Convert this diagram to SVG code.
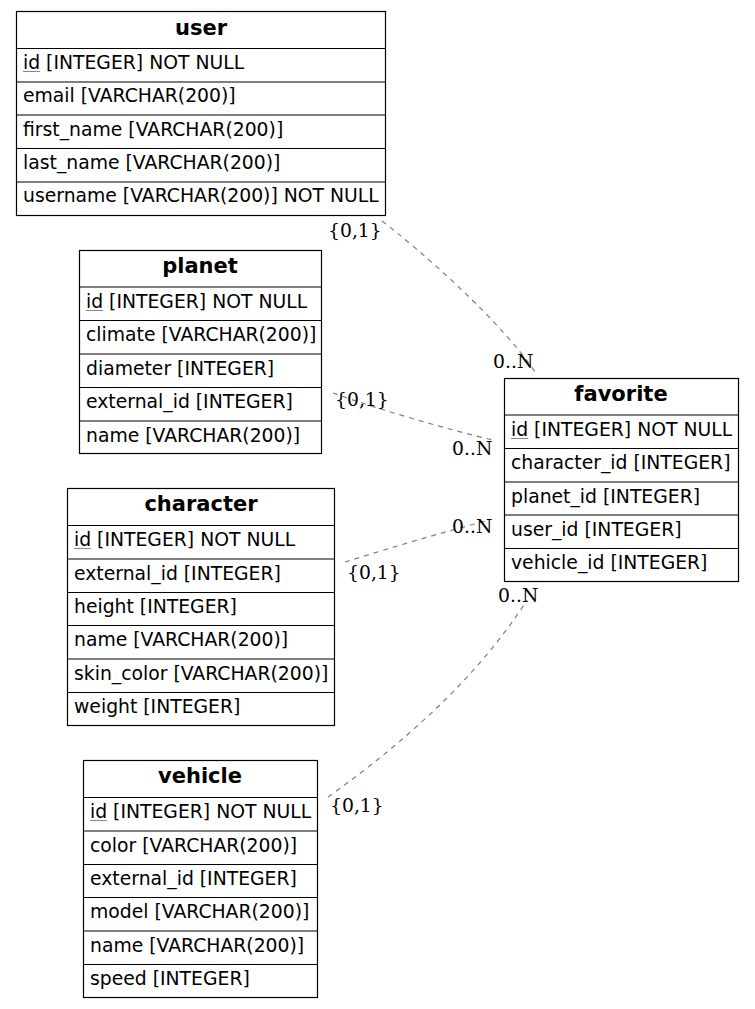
<svg xmlns="http://www.w3.org/2000/svg" width="755" height="1009" viewBox="0 0 755 1009">
<style>
.box{fill:#fff;stroke:#000;stroke-width:1.2}
.sep{stroke:#000;stroke-width:1.2}
.h{font-family:"DejaVu Sans",sans-serif;font-size:21px;font-weight:bold;text-anchor:middle;fill:#000}
.r{font-family:"DejaVu Sans",sans-serif;font-size:18.8px;fill:#000}
.u{stroke:#888;stroke-width:1}
.c{fill:none;stroke:#7f7f7f;stroke-width:1.2;stroke-dasharray:5,5}
.l{font-family:"DejaVu Serif",serif;font-size:18.8px;fill:#000}
</style>
<rect width="755" height="1009" fill="#fff"/>
<g id="connectors">
<path class="c" d="M382,221 C420,250 500,320 535,372"/>
<path class="c" d="M333,393 C380,410 450,430 493,440"/>
<path class="c" d="M345,562 C390,548 450,530 490,520"/>
<path class="c" d="M328,797 C380,760 470,690 527,600"/>
<text class="l" x="328" y="237">{0,1}</text>
<text class="l" x="493" y="368">0..N</text>
<text class="l" x="335" y="406">{0,1}</text>
<text class="l" x="452" y="455">0..N</text>
<text class="l" x="347" y="579">{0,1}</text>
<text class="l" x="452" y="533">0..N</text>
<text class="l" x="330" y="812">{0,1}</text>
<text class="l" x="498" y="602">0..N</text>
</g>
<g id="user">
<rect class="box" x="16.5" y="11.5" width="369" height="204"/>
<line class="sep" x1="16.5" y1="48.5" x2="385.5" y2="48.5"/>
<line class="sep" x1="16.5" y1="82" x2="385.5" y2="82"/>
<line class="sep" x1="16.5" y1="115" x2="385.5" y2="115"/>
<line class="sep" x1="16.5" y1="148.5" x2="385.5" y2="148.5"/>
<line class="sep" x1="16.5" y1="182" x2="385.5" y2="182"/>
<text class="h" x="201" y="35">user</text>
<text class="r" x="23" y="69">id [INTEGER] NOT NULL</text>
<line class="u" x1="23" y1="71.5" x2="40" y2="71.5"/>
<text class="r" x="23" y="102">email [VARCHAR(200)]</text>
<text class="r" x="23" y="136">first_name [VARCHAR(200)]</text>
<text class="r" x="23" y="169">last_name [VARCHAR(200)]</text>
<text class="r" x="23" y="202">username [VARCHAR(200)] NOT NULL</text>
</g>
<g id="planet">
<rect class="box" x="79.5" y="250.5" width="242" height="203"/>
<line class="sep" x1="79.5" y1="287" x2="321.5" y2="287"/>
<line class="sep" x1="79.5" y1="320.5" x2="321.5" y2="320.5"/>
<line class="sep" x1="79.5" y1="354" x2="321.5" y2="354"/>
<line class="sep" x1="79.5" y1="387.5" x2="321.5" y2="387.5"/>
<line class="sep" x1="79.5" y1="421" x2="321.5" y2="421"/>
<text class="h" x="200" y="273">planet</text>
<text class="r" x="86" y="308">id [INTEGER] NOT NULL</text>
<line class="u" x1="86" y1="310.5" x2="103" y2="310.5"/>
<text class="r" x="86" y="341">climate [VARCHAR(200)]</text>
<text class="r" x="86" y="375">diameter [INTEGER]</text>
<text class="r" x="86" y="408">external_id [INTEGER]</text>
<text class="r" x="86" y="442">name [VARCHAR(200)]</text>
</g>
<g id="character">
<rect class="box" x="67.5" y="488.5" width="267" height="237"/>
<line class="sep" x1="67.5" y1="525.5" x2="334.5" y2="525.5"/>
<line class="sep" x1="67.5" y1="559" x2="334.5" y2="559"/>
<line class="sep" x1="67.5" y1="592.5" x2="334.5" y2="592.5"/>
<line class="sep" x1="67.5" y1="625.5" x2="334.5" y2="625.5"/>
<line class="sep" x1="67.5" y1="659" x2="334.5" y2="659"/>
<line class="sep" x1="67.5" y1="692.5" x2="334.5" y2="692.5"/>
<text class="h" x="201" y="511">character</text>
<text class="r" x="74" y="546">id [INTEGER] NOT NULL</text>
<line class="u" x1="74" y1="548.5" x2="91" y2="548.5"/>
<text class="r" x="74" y="580">external_id [INTEGER]</text>
<text class="r" x="74" y="613">height [INTEGER]</text>
<text class="r" x="74" y="646">name [VARCHAR(200)]</text>
<text class="r" x="74" y="680">skin_color [VARCHAR(200)]</text>
<text class="r" x="74" y="713">weight [INTEGER]</text>
</g>
<g id="vehicle">
<rect class="box" x="83.5" y="760.5" width="234" height="237"/>
<line class="sep" x1="83.5" y1="797.5" x2="317.5" y2="797.5"/>
<line class="sep" x1="83.5" y1="831" x2="317.5" y2="831"/>
<line class="sep" x1="83.5" y1="864.5" x2="317.5" y2="864.5"/>
<line class="sep" x1="83.5" y1="897.5" x2="317.5" y2="897.5"/>
<line class="sep" x1="83.5" y1="931" x2="317.5" y2="931"/>
<line class="sep" x1="83.5" y1="964.5" x2="317.5" y2="964.5"/>
<text class="h" x="200" y="783">vehicle</text>
<text class="r" x="90" y="818">id [INTEGER] NOT NULL</text>
<line class="u" x1="90" y1="820.5" x2="107" y2="820.5"/>
<text class="r" x="90" y="852">color [VARCHAR(200)]</text>
<text class="r" x="90" y="885">external_id [INTEGER]</text>
<text class="r" x="90" y="918">model [VARCHAR(200)]</text>
<text class="r" x="90" y="952">name [VARCHAR(200)]</text>
<text class="r" x="90" y="985">speed [INTEGER]</text>
</g>
<g id="favorite">
<rect class="box" x="504.5" y="378.5" width="234" height="203"/>
<line class="sep" x1="504.5" y1="415" x2="738.5" y2="415"/>
<line class="sep" x1="504.5" y1="448.5" x2="738.5" y2="448.5"/>
<line class="sep" x1="504.5" y1="482" x2="738.5" y2="482"/>
<line class="sep" x1="504.5" y1="515" x2="738.5" y2="515"/>
<line class="sep" x1="504.5" y1="548.5" x2="738.5" y2="548.5"/>
<text class="h" x="621" y="401">favorite</text>
<text class="r" x="511" y="436">id [INTEGER] NOT NULL</text>
<line class="u" x1="511" y1="438.5" x2="528" y2="438.5"/>
<text class="r" x="511" y="469">character_id [INTEGER]</text>
<text class="r" x="511" y="503">planet_id [INTEGER]</text>
<text class="r" x="511" y="536">user_id [INTEGER]</text>
<text class="r" x="511" y="569">vehicle_id [INTEGER]</text>
</g>
</svg>
